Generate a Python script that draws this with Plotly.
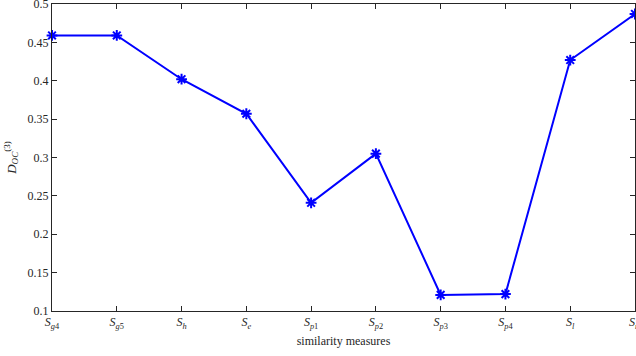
import plotly.graph_objects as go

categories = ["S<sub>g4</sub>", "S<sub>g5</sub>", "S<sub>h</sub>", "S<sub>e</sub>",
              "S<sub>p1</sub>", "S<sub>p2</sub>", "S<sub>p3</sub>", "S<sub>p4</sub>",
              "S<sub>l</sub>", "S<sub>m</sub>"]
values = [0.459, 0.459, 0.402, 0.357, 0.241, 0.305, 0.121, 0.122, 0.427, 0.487]
y_ticks = [0.1, 0.15, 0.2, 0.25, 0.3, 0.35, 0.4, 0.45, 0.5]
y_tick_labels = ["0.1", "0.15", "0.2", "0.25", "0.3", "0.35", "0.4", "0.45", "0.5"]

xs = list(range(len(categories)))
x_labels = []
for c in categories:
    base, sub = c.split("<sub>")
    sub = sub.replace("</sub>", "")
    x_labels.append("<i>" + base + "</i><sub><i>" + sub[0] + "</i>" + sub[1:] + "</sub>")

fig = go.Figure()
fig.add_trace(go.Scatter(
    x=xs, y=values, mode="lines+markers",
    line=dict(color="#0000ff", width=2),
    marker=dict(symbol="asterisk-open", size=9, color="#0000ff",
                line=dict(color="#0000ff", width=2)),
    cliponaxis=False, showlegend=False,
))

axis_common = dict(
    showgrid=False, zeroline=False, showline=True, linecolor="#262626", linewidth=1,
    mirror="ticks", ticks="inside", ticklen=5, tickwidth=1, tickcolor="#262626",
    automargin=False, ticklabeloverflow="allow",
    tickfont=dict(family="Liberation Serif, DejaVu Serif, serif", size=12, color="#262626"),
)

fig.update_layout(
    width=636, height=356,
    margin=dict(l=52, r=1, t=4, b=45),
    paper_bgcolor="white", plot_bgcolor="white",
    font=dict(family="Liberation Serif, DejaVu Serif, serif", color="#262626"),
    xaxis=dict(range=[0, len(categories) - 1], tickvals=xs, ticktext=x_labels,
               title=dict(text="similarity measures", font=dict(size=12), standoff=6),
               **axis_common),
    yaxis=dict(range=[0.1, 0.5], tickvals=y_ticks, ticktext=y_tick_labels,
               title=dict(text="<i>D</i><sub><i>OC</i></sub><sup>(3)</sup>", font=dict(size=13), standoff=8),
               **axis_common),
)

fig.write_html("out.html", config={"displayModeBar": False},
               post_script="document.body.style.margin='0';document.body.style.overflow='hidden';")
